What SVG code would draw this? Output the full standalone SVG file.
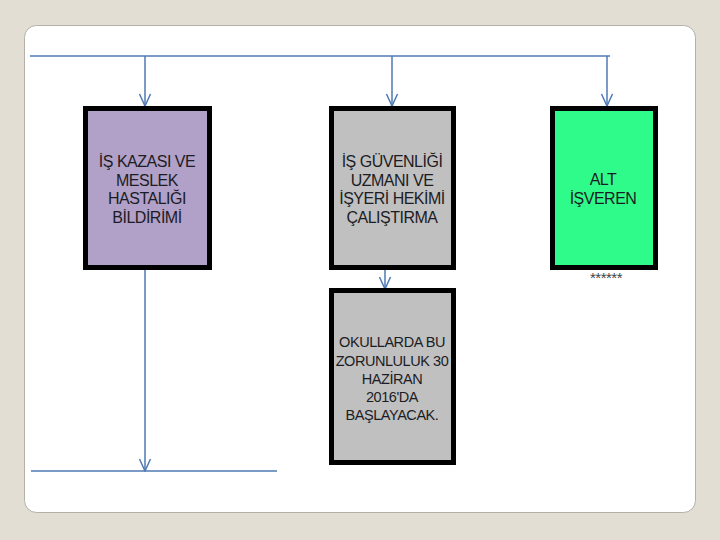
<svg xmlns="http://www.w3.org/2000/svg" width="720" height="540" viewBox="0 0 720 540">
<style>
.box{stroke:#000;stroke-width:5}
.t{font-family:"Liberation Sans",Arial,sans-serif;font-size:16px;fill:#1c1c24;text-anchor:middle;letter-spacing:-0.5px}
.t2{font-family:"Liberation Sans",Arial,sans-serif;font-size:14.5px;fill:#1c1c24;text-anchor:middle;letter-spacing:-0.45px}
.ln{stroke:#4f7ab4;stroke-width:1.5;fill:none}
</style>
<defs>
<marker id="ah" viewBox="0 0 14 14" refX="13" refY="7" markerWidth="14" markerHeight="14" markerUnits="userSpaceOnUse" orient="auto">
<path d="M1,1.5 L13,7 L1,12.5" fill="none" stroke="#4f7ab4" stroke-width="1.5"/>
</marker>
</defs>
<rect x="0" y="0" width="720" height="540" fill="#e3ded4"/>
<rect x="24.5" y="25.5" width="671" height="487" rx="12" fill="#fff" stroke="#b4b0a8" stroke-width="1"/>
<g id="connectors">
<path class="ln" d="M30,56 H610"/>
<path class="ln" d="M145,56 V106" marker-end="url(#ah)"/>
<path class="ln" d="M392,56 V106" marker-end="url(#ah)"/>
<path class="ln" d="M607,56 V106" marker-end="url(#ah)"/>
<path class="ln" d="M385,266 V289" marker-end="url(#ah)"/>
<path class="ln" d="M145,270 V471" marker-end="url(#ah)"/>
<path class="ln" d="M31,471 H277"/>
</g>
<g id="n1">
<rect class="box" x="85.5" y="108.5" width="124" height="159" fill="#b1a0c7"/>
<text class="t" x="147" y="167">İŞ KAZASI VE</text>
<text class="t" x="147" y="186">MESLEK</text>
<text class="t" x="147" y="204">HASTALIĞI</text>
<text class="t" x="147" y="223">BİLDİRİMİ</text>
</g>
<g id="n2">
<rect class="box" x="331.5" y="108.5" width="122" height="159" fill="#c0c0c0"/>
<text class="t" x="392" y="167">İŞ GÜVENLİĞİ</text>
<text class="t" x="392" y="186">UZMANI VE</text>
<text class="t" x="392" y="204">İŞYERİ HEKİMİ</text>
<text class="t" x="392" y="223">ÇALIŞTIRMA</text>
</g>
<g id="n3">
<rect class="box" x="552.5" y="108.5" width="103" height="159" fill="#2ffb8a"/>
<text class="t" x="603" y="185">ALT</text>
<text class="t" x="603" y="204">İŞVEREN</text>
<text x="606" y="283" style="font-family:'Liberation Sans',Arial,sans-serif;font-size:15px;fill:#444;text-anchor:middle;letter-spacing:-0.5px">******</text>
</g>
<g id="n4">
<rect class="box" x="331.5" y="290.5" width="122" height="172" fill="#c0c0c0"/>
<text class="t2" x="392" y="347">OKULLARDA BU</text>
<text class="t2" x="392" y="366">ZORUNLULUK 30</text>
<text class="t2" x="392" y="384">HAZİRAN</text>
<text class="t2" x="392" y="402">2016'DA</text>
<text class="t2" x="392" y="420">BAŞLAYACAK.</text>
</g>
</svg>
